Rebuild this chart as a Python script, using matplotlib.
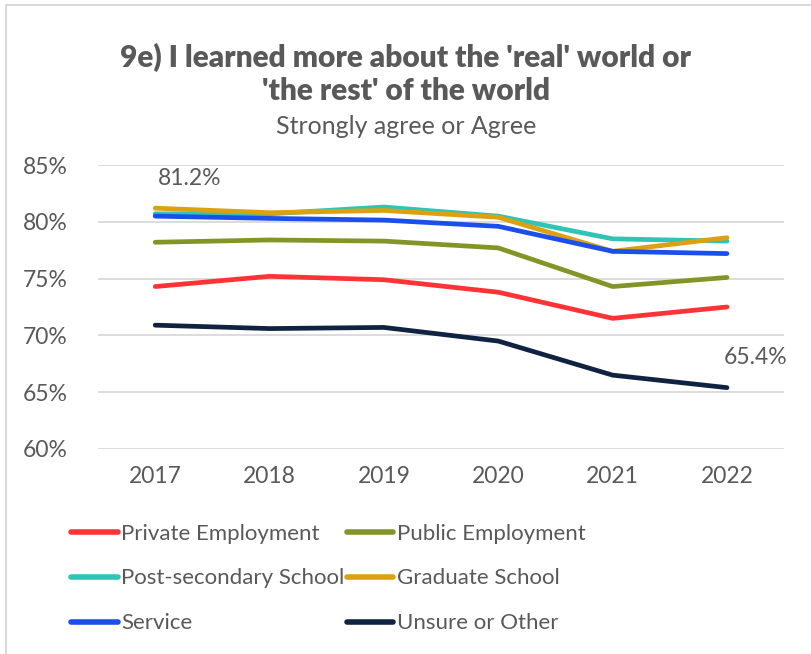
import matplotlib

matplotlib.use("Agg")
import matplotlib.pyplot as plt
from matplotlib.patches import Rectangle

years = ["2017", "2018", "2019", "2020", "2021", "2022"]
private_emp = [74.3, 75.2, 74.9, 73.8, 71.5, 72.5]
public_emp = [78.2, 78.4, 78.3, 77.7, 74.3, 75.1]
post_secondary = [80.7, 80.7, 81.3, 80.5, 78.5, 78.3]
graduate = [81.2, 80.8, 81.0, 80.4, 77.4, 78.6]
service = [80.5, 80.3, 80.15, 79.6, 77.4, 77.2]
unsure = [70.9, 70.6, 70.7, 69.5, 66.5, 65.4]

series = [
    ("Private Employment", private_emp, "#FF3336"),
    ("Public Employment", public_emp, "#849528"),
    ("Post-secondary School", post_secondary, "#2EC4B6"),
    ("Graduate School", graduate, "#DBA111"),
    ("Service", service, "#1A4FEB"),
    ("Unsure or Other", unsure, "#0F2240"),
]

plt.rcParams["font.family"] = ["Lato", "DejaVu Sans"]
TXT = "#595959"

fig = plt.figure(figsize=(8.12, 6.54), dpi=100)
# light frame around the chart (only left and top edges visible)
fig.patches.append(
    Rectangle((0.007, -0.05), 1.1, 1.042, transform=fig.transFigure,
              fill=False, edgecolor="#d9d9d9", lw=1.5)
)

ax = fig.add_axes([0.1207, 0.3135, 0.845, 0.4342])
x = list(range(len(years)))
for label, vals, color in series:
    ax.plot(x, [v / 100 for v in vals], color=color, lw=3.4, label=label,
            solid_capstyle="round")

ax.set_xlim(-0.5, len(years) - 0.5)
ax.set_ylim(0.60, 0.85)
ax.set_yticks([0.60, 0.65, 0.70, 0.75, 0.80, 0.85])
ax.set_yticklabels([f"{int(round(t * 100))}%" for t in ax.get_yticks()])
ax.set_xticks(x)
ax.set_xticklabels(years)
ax.tick_params(length=0, labelsize=16.5, colors=TXT)
ax.tick_params(axis="y", pad=22)
ax.tick_params(axis="x", pad=12)
ax.grid(axis="y", color="#d9d9d9", lw=1.3)
ax.set_axisbelow(True)
for s in ax.spines.values():
    s.set_visible(False)

ax.annotate(f"{graduate[0]:.1f}%", (0, graduate[0] / 100), xytext=(2, 14),
            textcoords="offset points", ha="left", va="bottom",
            fontsize=16.5, color=TXT)
ax.annotate(f"{unsure[-1]:.1f}%", (5, unsure[-1] / 100), xytext=(-2, 14),
            textcoords="offset points", ha="left", va="bottom",
            fontsize=16.5, color=TXT)

fig.text(0.5, 0.935, "9e) I learned more about the 'real' world or\n'the rest' of the world",
         ha="center", va="top", fontsize=21.5, fontweight="heavy", color=TXT,
         linespacing=1.22)
fig.text(0.5, 0.806, "Strongly agree or Agree", ha="center", va="center",
         fontsize=18, color=TXT)

handles, labels = ax.get_legend_handles_labels()
order = [0, 2, 4, 1, 3, 5]  # row-wise fill for a 2-column legend
leg = fig.legend([handles[i] for i in order], [labels[i] for i in order],
                 loc="upper left", bbox_to_anchor=(0.063, 0.23), ncol=2,
                 frameon=False, fontsize=16, handlelength=2.1, handletextpad=0.15,
                 columnspacing=0.1, labelspacing=1.12, labelcolor=TXT)
for h in leg.get_lines():
    h.set_linewidth(4)

fig.savefig("out.png", dpi=100)
